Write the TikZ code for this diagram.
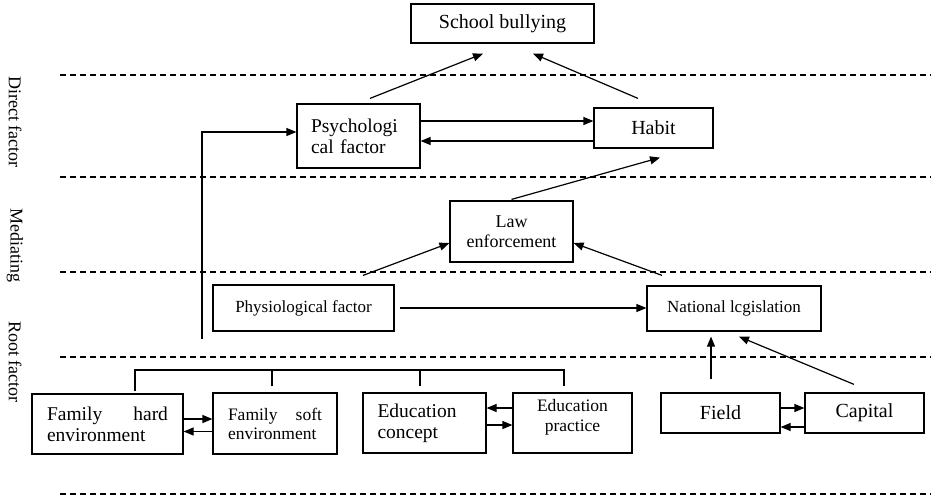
\documentclass[tikz,border=0pt]{standalone}
\usepackage{fontspec}
\setmainfont{Liberation Serif}
\usetikzlibrary{arrows.meta,calc}
\begin{document}
\begin{tikzpicture}[x=1pt,y=-1pt,
  box/.style={draw, line width=1.2pt, inner sep=0pt, minimum width=#1, align=center},
  arr/.style={line width=1.2pt, -{Triangle[length=10pt,width=8pt]}},
  ln/.style={line width=1.2pt},
  sep/.style={line width=1.2pt, dash pattern=on 6pt off 4pt},
  side/.style={rotate=-90, font=\fontsize{18}{19}\selectfont}]
\useasboundingbox (0,0) rectangle (933,496);
% separators
\foreach \yy/\nm in {75/d1,177/d2,272/d3,357/d4,494/d5}{
  \coordinate (\nm a) at (60,\yy);
  \coordinate (\nm b) at (931,\yy);
  \draw[sep] (\nm a) -- (\nm b);
}
% side labels
\node[side] (lab1) at (15,122) {Direct factor};
\node[side] (lab2) at (15,245) {Mediating};
\node[side] (lab3) at (15,362) {Root factor};
% boxes
\node[box=183pt, minimum height=39pt, font=\fontsize{20}{22}\selectfont] (school) at (502.5,23.5) {School bullying};
\node[box=123pt, minimum height=64pt, font=\fontsize{19.5}{21}\selectfont, align=left, text width=95pt] (psych) at (358.5,136) {Psychologi\\cal factor};
\node[box=119pt, minimum height=40pt, font=\fontsize{20}{22}\selectfont] (habit) at (653.5,128) {Habit};
\node[box=123pt, minimum height=61pt, font=\fontsize{18}{20}\selectfont] (law) at (511.5,231.5) {Law\\enforcement};
\node[box=181pt, minimum height=46pt, font=\fontsize{17}{19}\selectfont] (physio) at (303.5,308) {Physiological factor};
\node[box=174pt, minimum height=45pt, font=\fontsize{17}{19}\selectfont] (national) at (734,308.5) {National lcgislation};
\node[box=151pt, minimum height=60pt, font=\fontsize{19.5}{21}\selectfont, align=left, text width=121pt] (famhard) at (107.5,424) {\makebox[121pt][s]{Family\hfill hard}\\environment};
\node[box=124pt, minimum height=61pt, font=\fontsize{17.5}{19}\selectfont, align=left, text width=94pt] (famsoft) at (275,423.5) {\makebox[94pt][s]{Family\hfill soft}\\environment\\[-4pt]};
\node[box=123pt, minimum height=60pt, font=\fontsize{19.5}{21}\selectfont, align=left, text width=94pt] (educon) at (424.5,423) {Education\\concept};
\node[box=119pt, minimum height=60pt, font=\fontsize{17.5}{20}\selectfont] (edupra) at (572.5,423) {Education\\practice\\[-4pt]};
\node[box=119pt, minimum height=40pt, font=\fontsize{20}{22}\selectfont] (field) at (720.5,413) {Field};
\node[box=119pt, minimum height=40pt, font=\fontsize{20}{22}\selectfont] (capital) at (864.5,413) {Capital};
% top arrows
\draw[arr] ([xshift=11.5pt,yshift=5pt]psych.north) -- ([xshift=-19.5pt,yshift=-10pt]school.south);
\draw[arr] ([xshift=-15.5pt,yshift=9pt]habit.north) -- ([xshift=30.5pt,yshift=-10pt]school.south);
\draw[arr] ([yshift=15pt]psych.east) -- ([yshift=15pt]psych.east -| habit.west);
\draw[arr] ([yshift=-13pt]habit.west) -- ([yshift=-13pt]habit.west -| psych.east);
% mediating
\draw[arr] ([yshift=1pt]law.north) -- ([xshift=6.5pt,yshift=-9pt]habit.south);
\draw[arr] ([xshift=59.5pt,yshift=9pt]physio.north) -- ([yshift=-11.5pt]law.west);
\draw[arr] ([xshift=-72pt,yshift=10pt]national.north) -- ([yshift=-11.5pt]law.east);
\draw[arr] ([xshift=5pt]physio.east) -- (physio.east -| national.west);
% left long connector
\coordinate (lb) at (202,339);
\draw[arr] (lb) |- ([yshift=4pt]psych.west);
% field / capital to national
\draw[arr] ([xshift=-9.5pt,yshift=13pt]field.north) -- ([xshift=-9.5pt,yshift=-5pt]field.north |- national.south);
\draw[arr] ([xshift=-10.5pt,yshift=8pt]capital.north) -- ([xshift=5pt,yshift=-5pt]national.south);
% pair arrows
\draw[arr] ([yshift=5pt]field.east) -- ([yshift=5pt]field.east -| capital.west);
\draw[arr] ([yshift=-14pt]capital.west) -- ([yshift=-14pt]capital.west -| field.east);
\draw[arr] ([yshift=5pt]famhard.east) -- ([yshift=5pt]famhard.east -| famsoft.west);
\draw[arr] ([yshift=-8pt]famsoft.west) -- ([yshift=-8pt]famsoft.west -| famhard.east);
\draw[arr] ([yshift=15pt]edupra.west) -- ([yshift=15pt]edupra.west -| educon.east);
\draw[arr] ([yshift=-2pt]educon.east) -- ([yshift=-2pt]educon.east -| edupra.west);
% bracket
\coordinate (br) at (0,370);
\coordinate (t1) at ([xshift=27.5pt,yshift=2pt]famhard.north);
\coordinate (t2) at ([xshift=-3pt,yshift=6pt]famsoft.north);
\coordinate (t3) at ([xshift=-4.5pt,yshift=6pt]educon.north);
\coordinate (t4) at ([xshift=-8.5pt,yshift=6pt]edupra.north);
\draw[ln] (t1) -- (t1 |- br) -- (t4 |- br) -- (t4);
\draw[ln] (t2) -- (t2 |- br);
\draw[ln] (t3) -- (t3 |- br);
\end{tikzpicture}
\end{document}
